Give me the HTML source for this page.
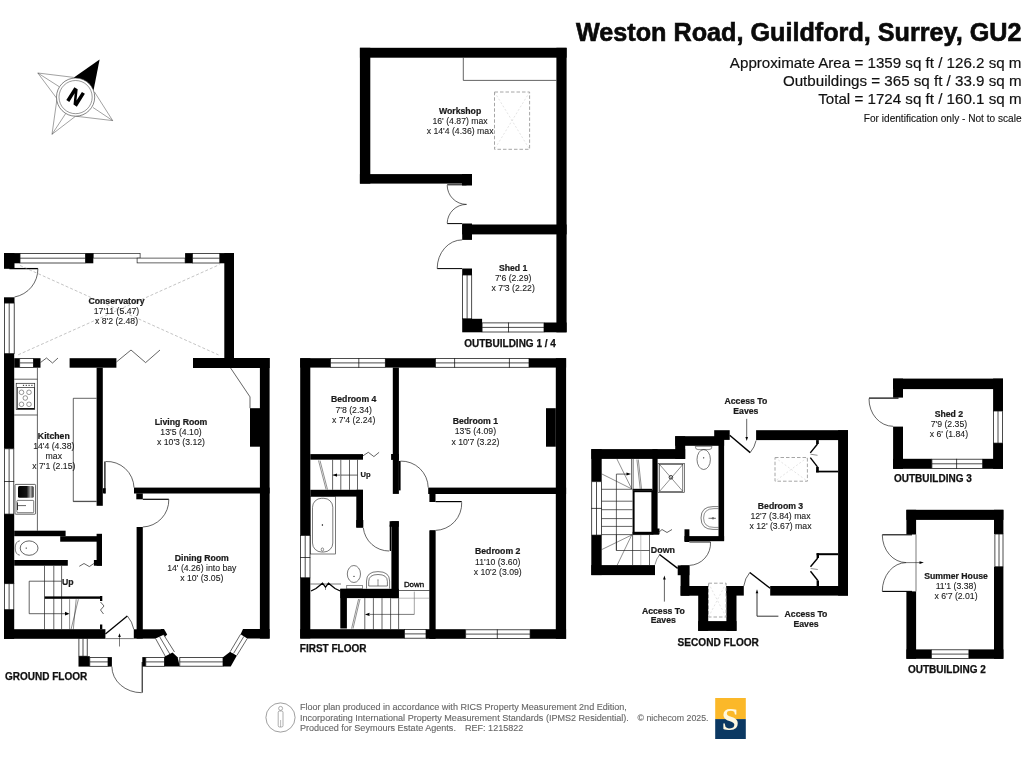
<!DOCTYPE html>
<html><head><meta charset="utf-8"><style>
html,body{margin:0;padding:0;background:#fff;}
body{width:1024px;height:768px;overflow:hidden;position:relative;font-family:"Liberation Sans",sans-serif;}
svg{position:absolute;left:0;top:0;}
</style></head><body>
<svg width="1024" height="768" viewBox="0 0 1024 768" font-family="Liberation Sans, sans-serif">
<rect x="0" y="0" width="1024" height="768" fill="#fff"/>
<defs><filter id="gs" color-interpolation-filters="sRGB"><feColorMatrix type="saturate" values="0"/></filter></defs>
<g fill="#000" filter="url(#gs)">
<text x="1021.5" y="40.9" font-size="25.2" font-weight="bold" text-anchor="end" fill="#0a0a0a" font-family="Liberation Sans" stroke="#0a0a0a" stroke-width="0.63">Weston Road, Guildford, Surrey, GU2</text>
<text x="1021.5" y="67.8" font-size="15.15" font-weight="normal" text-anchor="end" fill="#111" font-family="Liberation Sans" stroke="#111" stroke-width="0.18">Approximate Area = 1359 sq ft / 126.2 sq m</text>
<text x="1021.5" y="86.0" font-size="15.15" font-weight="normal" text-anchor="end" fill="#111" font-family="Liberation Sans" stroke="#111" stroke-width="0.18">Outbuildings = 365 sq ft / 33.9 sq m</text>
<text x="1021.5" y="104.1" font-size="15.15" font-weight="normal" text-anchor="end" fill="#111" font-family="Liberation Sans" stroke="#111" stroke-width="0.18">Total = 1724 sq ft / 160.1 sq m</text>
<text x="1021.5" y="121.9" font-size="10.1" font-weight="normal" text-anchor="end" fill="#111" font-family="Liberation Sans" stroke="#111" stroke-width="0.12">For identification only - Not to scale</text>
<rect x="4.0" y="253.1" width="16.0" height="10.2"/>
<rect x="4.0" y="253.1" width="10.5" height="15.7"/>
<rect x="20.0" y="253.5" width="65.5" height="9.5" fill="#fff" stroke="#111" stroke-width="0.75"/>
<line x1="20.0" y1="258.2" x2="85.5" y2="258.2" stroke="#111" stroke-width="0.75"/>
<rect x="85.5" y="253.1" width="7.8" height="10.2"/>
<rect x="93.3" y="253.5" width="46.8" height="4.6" fill="#fff" stroke="#222" stroke-width="0.7"/>
<rect x="137.1" y="258.1" width="48" height="4.8" fill="#fff" stroke="#222" stroke-width="0.7"/>
<rect x="185.1" y="253.1" width="7.5" height="10.2"/>
<rect x="192.6" y="253.5" width="27.2" height="9.5" fill="#fff" stroke="#111" stroke-width="0.75"/>
<line x1="192.6" y1="258.2" x2="219.8" y2="258.2" stroke="#111" stroke-width="0.75"/>
<rect x="219.8" y="253.1" width="14.2" height="10.2"/>
<rect x="224.3" y="253.1" width="9.7" height="114.9"/>
<line x1="9.4" y1="268.6" x2="37.9" y2="268.6" stroke="#000" stroke-width="1.3"/>
<path d="M37.9,268.6 A28.5,28.5 0 0 1 14.5,297.0" stroke="#222" stroke-width="0.7" fill="none"/>
<rect x="4.0" y="297.3" width="10.5" height="5.8"/>
<rect x="4.4" y="303.1" width="9.8" height="50.6" fill="#fff" stroke="#111" stroke-width="0.75"/>
<line x1="9.2" y1="303.1" x2="9.2" y2="353.7" stroke="#111" stroke-width="0.75"/>
<line x1="20.0" y1="265.5" x2="218.5" y2="354.9" stroke="#888" stroke-width="0.5" stroke-dasharray="3,2"/>
<line x1="18.2" y1="354.8" x2="219.5" y2="264.6" stroke="#888" stroke-width="0.5" stroke-dasharray="3,2"/>
<text x="116.5" y="303.9" font-size="8.7" font-weight="bold" text-anchor="middle" fill="#1a1a1a" font-family="Liberation Sans" stroke="#1a1a1a" stroke-width="0.22">Conservatory</text>
<text x="116.5" y="314.0" font-size="8.7" font-weight="normal" text-anchor="middle" fill="#1a1a1a" font-family="Liberation Sans" stroke="#1a1a1a" stroke-width="0.10">17'11 (5.47)</text>
<text x="116.5" y="324.1" font-size="8.7" font-weight="normal" text-anchor="middle" fill="#1a1a1a" font-family="Liberation Sans" stroke="#1a1a1a" stroke-width="0.10">x 8'2 (2.48)</text>
<rect x="4.0" y="353.7" width="10.2" height="95.1"/>
<rect x="14.2" y="358.2" width="5.5" height="9.5"/>
<rect x="19.7" y="358.6" width="13.7" height="8.8" fill="#fff" stroke="#111" stroke-width="0.75"/>
<line x1="19.7" y1="362.9" x2="33.4" y2="362.9" stroke="#111" stroke-width="0.75"/>
<rect x="33.4" y="358.2" width="7.1" height="9.5"/>
<polyline points="40.5,362.5 46.5,358.0 52.5,363.0 58.0,358.0" stroke="#222" stroke-width="0.7" fill="none" stroke-linejoin="miter"/>
<rect x="69.6" y="358.2" width="46.8" height="9.5"/>
<polyline points="116.4,362.0 131.0,350.0 145.6,362.6 160.0,350.0" stroke="#222" stroke-width="0.7" fill="none" stroke-linejoin="miter"/>
<rect x="193.0" y="358.0" width="76.6" height="10.0"/>
<rect x="96.6" y="367.7" width="6.2" height="138.1"/>
<rect x="259.9" y="358.0" width="9.7" height="280.6"/>
<polyline points="230.6,368.0 250.0,396.9 250.0,408.2" stroke="#222" stroke-width="0.7" fill="none" stroke-linejoin="miter"/>
<rect x="250.0" y="408.2" width="10.0" height="38.5"/>
<text x="181.0" y="425.2" font-size="8.7" font-weight="bold" text-anchor="middle" fill="#1a1a1a" font-family="Liberation Sans" stroke="#1a1a1a" stroke-width="0.22">Living Room</text>
<text x="181.0" y="435.3" font-size="8.7" font-weight="normal" text-anchor="middle" fill="#1a1a1a" font-family="Liberation Sans" stroke="#1a1a1a" stroke-width="0.10">13'5 (4.10)</text>
<text x="181.0" y="445.4" font-size="8.7" font-weight="normal" text-anchor="middle" fill="#1a1a1a" font-family="Liberation Sans" stroke="#1a1a1a" stroke-width="0.10">x 10'3 (3.12)</text>
<line x1="14.2" y1="379.2" x2="37.4" y2="379.2" stroke="#222" stroke-width="0.7"/>
<line x1="37.4" y1="367.7" x2="37.4" y2="530.7" stroke="#222" stroke-width="0.7"/>
<line x1="14.2" y1="415.0" x2="37.4" y2="415.0" stroke="#222" stroke-width="0.7"/>
<rect x="16.2" y="383.3" width="18.5" height="26.1" fill="none" stroke="#222" stroke-width="0.7"/>
<rect x="17.5" y="387.6" width="17" height="21" fill="none" stroke="#222" stroke-width="0.7"/>
<line x1="17.5" y1="408.6" x2="34.5" y2="408.6" stroke="#111" stroke-width="1.2"/>
<circle cx="21.5" cy="392.3" r="2.3" fill="none" stroke="#333" stroke-width="0.5"/>
<circle cx="29" cy="392.3" r="2.3" fill="none" stroke="#333" stroke-width="0.5"/>
<circle cx="25.3" cy="398" r="2.3" fill="none" stroke="#333" stroke-width="0.5"/>
<circle cx="21.5" cy="404.3" r="2.3" fill="none" stroke="#333" stroke-width="0.5"/>
<circle cx="29" cy="404.3" r="2.3" fill="none" stroke="#333" stroke-width="0.5"/>
<rect x="22.9" y="384.8" width="1.2" height="1.2" fill="#444"/>
<rect x="25.7" y="384.8" width="1.2" height="1.2" fill="#444"/>
<rect x="28.5" y="384.8" width="1.2" height="1.2" fill="#444"/>
<rect x="31.299999999999997" y="384.8" width="1.2" height="1.2" fill="#444"/>
<polyline points="96.6,398.3 73.3,398.3 73.3,501.6 96.6,501.6" stroke="#222" stroke-width="0.7" fill="none" stroke-linejoin="miter"/>
<text x="53.8" y="439.4" font-size="8.7" font-weight="bold" text-anchor="middle" fill="#1a1a1a" font-family="Liberation Sans" stroke="#1a1a1a" stroke-width="0.22">Kitchen</text>
<text x="53.8" y="449.4" font-size="8.7" font-weight="normal" text-anchor="middle" fill="#1a1a1a" font-family="Liberation Sans" stroke="#1a1a1a" stroke-width="0.10">14'4 (4.38)</text>
<text x="53.8" y="459.4" font-size="8.7" font-weight="normal" text-anchor="middle" fill="#1a1a1a" font-family="Liberation Sans" stroke="#1a1a1a" stroke-width="0.10">max</text>
<text x="53.8" y="469.4" font-size="8.7" font-weight="normal" text-anchor="middle" fill="#1a1a1a" font-family="Liberation Sans" stroke="#1a1a1a" stroke-width="0.10">x 7'1 (2.15)</text>
<rect x="15" y="484.4" width="20.6" height="29.8" rx="0.8" fill="none" stroke="#222" stroke-width="0.7"/>
<defs><linearGradient id="sg" x1="0" x2="1" y1="0" y2="0"><stop offset="0" stop-color="#000"/><stop offset="0.55" stop-color="#111"/><stop offset="0.8" stop-color="#aaa"/><stop offset="1" stop-color="#222"/></linearGradient></defs>
<rect x="18" y="486" width="15.7" height="11.7" rx="1.5" fill="url(#sg)"/>
<rect x="16.9" y="500.4" width="16.8" height="12.3" rx="0.8" fill="none" stroke="#222" stroke-width="0.6"/>
<line x1="17.5" y1="505.6" x2="26.0" y2="505.6" stroke="#222" stroke-width="0.7"/>
<line x1="17.5" y1="502.5" x2="17.5" y2="510.0" stroke="#222" stroke-width="0.9"/>
<rect x="4.4" y="448.8" width="9.4" height="65.3" fill="#fff" stroke="#111" stroke-width="0.75"/>
<line x1="9.1" y1="448.8" x2="9.1" y2="514.1" stroke="#111" stroke-width="0.75"/>
<line x1="4.0" y1="481.5" x2="14.2" y2="481.5" stroke="#111" stroke-width="0.75"/>
<rect x="4.0" y="514.1" width="10.2" height="69.9"/>
<rect x="4.4" y="583.7" width="9.4" height="26.0" fill="#fff" stroke="#111" stroke-width="0.75"/>
<line x1="9.1" y1="583.7" x2="9.1" y2="609.7" stroke="#111" stroke-width="0.75"/>
<rect x="4.0" y="609.7" width="10.2" height="29.2"/>
<rect x="14.2" y="530.7" width="51.4" height="5.5"/>
<rect x="60.2" y="536.2" width="41.8" height="5.5"/>
<rect x="96.6" y="533.8" width="5.4" height="31.9"/>
<rect x="14.2" y="560.0" width="53.6" height="5.7"/>
<rect x="93.9" y="560.0" width="8.1" height="5.7"/>
<ellipse cx="29.1" cy="548.1" rx="8.9" ry="7.2" fill="none" stroke="#222" stroke-width="0.7"/>
<path d="M19.8,540.8 Q15.2,541.5 15.2,548 Q15.2,554.5 19.8,555.2" stroke="#222" stroke-width="0.6" fill="none"/>
<circle cx="26.2" cy="548.1" r="0.6" fill="#000"/>
<polyline points="79.3,566.3 84.0,563.5 89.3,566.6 93.9,563.5" stroke="#222" stroke-width="0.7" fill="none" stroke-linejoin="miter"/>
<line x1="44.5" y1="565.7" x2="44.5" y2="629.2" stroke="#222" stroke-width="0.7"/>
<line x1="53.8" y1="565.7" x2="53.8" y2="629.2" stroke="#222" stroke-width="0.7"/>
<line x1="61.6" y1="565.7" x2="61.6" y2="629.2" stroke="#222" stroke-width="0.7"/>
<polyline points="61.6,581.2 29.2,581.2 29.2,613.7 68.0,613.7" stroke="#222" stroke-width="0.7" fill="none" stroke-linejoin="miter"/>
<polygon points="69.5,613.7 65.0,611.8 65.0,615.6" fill="#000"/>
<rect x="44.7" y="596.4" width="57.3" height="2.4"/>
<line x1="78.4" y1="599.2" x2="71.1" y2="629.2" stroke="#222" stroke-width="0.5"/>
<line x1="76.2" y1="599.2" x2="73.3" y2="629.2" stroke="#222" stroke-width="0.5"/>
<line x1="69.6" y1="599.2" x2="69.6" y2="629.2" stroke="#222" stroke-width="0.5"/>
<polyline points="100.5,602.0 104.0,606.0 100.5,610.0 103.5,614.0" stroke="#222" stroke-width="0.7" fill="none" stroke-linejoin="miter"/>
<rect x="100.0" y="596.0" width="2.3" height="5.0"/>
<rect x="100.0" y="624.5" width="2.3" height="4.8"/>
<text x="67.8" y="585.1" font-size="8.7" font-weight="bold" text-anchor="middle" fill="#1a1a1a" font-family="Liberation Sans" stroke="#1a1a1a" stroke-width="0.22">Up</text>
<rect x="4.0" y="629.2" width="101.4" height="9.6"/>
<line x1="105.4" y1="634.1" x2="127.3" y2="615.9" stroke="#000" stroke-width="1.3"/>
<path d="M127.3,615.9 A28.4,28.4 0 0 1 133.8,629.3" stroke="#222" stroke-width="0.7" fill="none"/>
<line x1="105.4" y1="638.6" x2="133.8" y2="638.6" stroke="#222" stroke-width="0.6"/>
<line x1="119.5" y1="646.5" x2="119.5" y2="636.0" stroke="#222" stroke-width="0.6"/>
<polygon points="119.5,633.2 118.2,637.0 120.8,637.0" fill="#000"/>
<rect x="133.8" y="629.3" width="27.4" height="9.3"/>
<rect x="136.6" y="527.0" width="6.2" height="111.6"/>
<line x1="104.9" y1="461.5" x2="104.9" y2="493.4" stroke="#000" stroke-width="1.2"/>
<rect x="102.8" y="488.2" width="2.8" height="5.2"/>
<path d="M105.6,461.5 A27.0,27.0 0 0 1 134.0,487.6" stroke="#222" stroke-width="0.7" fill="none"/>
<rect x="134.0" y="487.6" width="135.6" height="5.9"/>
<rect x="136.3" y="493.4" width="6.5" height="5.9"/>
<line x1="142.8" y1="499.3" x2="168.8" y2="499.3" stroke="#000" stroke-width="1.2"/>
<path d="M168.8,499.3 A27.0,27.0 0 0 1 142.8,527.0" stroke="#222" stroke-width="0.7" fill="none"/>
<line x1="73.3" y1="501.2" x2="96.6" y2="501.2" stroke="#222" stroke-width="0.6"/>
<rect x="78.9" y="638.6" width="8.3" height="17.6" fill="#fff" stroke="#111" stroke-width="0.75"/>
<line x1="83.0" y1="638.6" x2="83.0" y2="656.2" stroke="#111" stroke-width="0.75"/>
<rect x="78.5" y="656.2" width="11.3" height="10.4"/>
<rect x="89.8" y="657.5" width="18.2" height="8.8" fill="#fff" stroke="#111" stroke-width="0.75"/>
<line x1="89.8" y1="661.9" x2="108.0" y2="661.9" stroke="#111" stroke-width="0.75"/>
<rect x="108.0" y="657.1" width="3.9" height="9.5"/>
<path d="M111.9,666.6 A29.7,26.1 0 0 0 141.6,692.7" stroke="#222" stroke-width="0.7" fill="none"/>
<line x1="142.2" y1="662.0" x2="142.2" y2="692.7" stroke="#000" stroke-width="1.0"/>
<rect x="142.3" y="657.1" width="3.5" height="9.5"/>
<rect x="145.8" y="657.5" width="18.6" height="8.8" fill="#fff" stroke="#111" stroke-width="0.75"/>
<line x1="145.8" y1="661.9" x2="164.4" y2="661.9" stroke="#111" stroke-width="0.75"/>
<polygon points="160.8,629.0 164.0,629.0 167.2,634.5 163.2,638.6 160.8,638.6" fill="#000"/>
<polygon points="155.6,638.6 163.7,634.8 174.5,652.0 165.6,656.8" fill="#fff"/>
<path d="M155.6,638.6 L165.6,656.8 M163.7,634.8 L174.5,652 M159.6,636.7 L170,654.4" stroke="#222" stroke-width="0.7" fill="none"/>
<polygon points="164.4,656.8 172.5,652.6 177.6,657.2 179.8,666.6 164.4,666.6" fill="#000"/>
<rect x="179.8" y="657.6" width="43.2" height="8.6" fill="#fff" stroke="#111" stroke-width="0.75"/>
<line x1="179.8" y1="661.9" x2="223.0" y2="661.9" stroke="#111" stroke-width="0.75"/>
<polygon points="223.0,657.2 230.2,651.7 236.9,655.4 230.7,666.6 223.0,666.6" fill="#000"/>
<polygon points="230.2,651.7 236.9,655.4 247.2,638.6 240.6,634.2" fill="#fff"/>
<path d="M230.2,651.7 L240.6,634.2 M236.9,655.4 L247.2,638.6 M233.5,653.5 L243.9,636.4" stroke="#222" stroke-width="0.7" fill="none"/>
<polygon points="240.6,634.2 243.0,629.0 269.6,629.0 269.6,638.6 247.2,638.6" fill="#000"/>
<text x="201.8" y="560.8" font-size="8.7" font-weight="bold" text-anchor="middle" fill="#1a1a1a" font-family="Liberation Sans" stroke="#1a1a1a" stroke-width="0.22">Dining Room</text>
<text x="201.8" y="570.9" font-size="8.7" font-weight="normal" text-anchor="middle" fill="#1a1a1a" font-family="Liberation Sans" stroke="#1a1a1a" stroke-width="0.10">14' (4.26) into bay</text>
<text x="201.8" y="581.0" font-size="8.7" font-weight="normal" text-anchor="middle" fill="#1a1a1a" font-family="Liberation Sans" stroke="#1a1a1a" stroke-width="0.10">x 10' (3.05)</text>
<text x="5.0" y="680.0" font-size="10" font-weight="bold" text-anchor="start" fill="#111" font-family="Liberation Sans" stroke="#111" stroke-width="0.25">GROUND FLOOR</text>
<rect x="300.2" y="358.2" width="30.4" height="9.4"/>
<rect x="330.6" y="358.6" width="54.7" height="8.7" fill="#fff" stroke="#111" stroke-width="0.75"/>
<line x1="330.6" y1="362.9" x2="385.3" y2="362.9" stroke="#111" stroke-width="0.75"/>
<line x1="358.8" y1="358.2" x2="358.8" y2="367.6" stroke="#111" stroke-width="0.75"/>
<rect x="385.3" y="358.2" width="50.3" height="9.4"/>
<rect x="435.6" y="358.6" width="93.4" height="8.7" fill="#fff" stroke="#111" stroke-width="0.75"/>
<line x1="435.6" y1="362.9" x2="529.0" y2="362.9" stroke="#111" stroke-width="0.75"/>
<line x1="454.6" y1="358.2" x2="454.6" y2="367.6" stroke="#111" stroke-width="0.75"/>
<line x1="509.4" y1="358.2" x2="509.4" y2="367.6" stroke="#111" stroke-width="0.75"/>
<rect x="529.0" y="358.2" width="37.1" height="9.4"/>
<rect x="555.8" y="358.2" width="10.3" height="280.6"/>
<rect x="546.0" y="408.2" width="9.8" height="38.5"/>
<rect x="300.2" y="358.2" width="10.1" height="177.4"/>
<rect x="300.6" y="535.6" width="9.4" height="42.2" fill="#fff" stroke="#111" stroke-width="0.75"/>
<line x1="305.2" y1="535.6" x2="305.2" y2="577.8" stroke="#111" stroke-width="0.75"/>
<line x1="300.2" y1="557.5" x2="310.3" y2="557.5" stroke="#111" stroke-width="0.75"/>
<rect x="300.2" y="577.8" width="10.1" height="60.6"/>
<rect x="392.8" y="367.6" width="6.1" height="126.3"/>
<rect x="391.1" y="454.0" width="7.8" height="5.9"/>
<line x1="399.7" y1="461.0" x2="399.7" y2="490.4" stroke="#000" stroke-width="1.8"/>
<path d="M400.5,461.1 A27.0,27.0 0 0 1 428.2,487.5" stroke="#222" stroke-width="0.7" fill="none"/>
<rect x="310.3" y="454.1" width="52.7" height="5.6"/>
<polyline points="363.0,455.8 368.3,452.3 373.9,456.6 379.1,452.3" stroke="#222" stroke-width="0.7" fill="none" stroke-linejoin="miter"/>
<line x1="332.6" y1="459.7" x2="332.6" y2="489.8" stroke="#222" stroke-width="0.7"/>
<line x1="340.8" y1="459.7" x2="340.8" y2="489.8" stroke="#222" stroke-width="0.7"/>
<line x1="349.5" y1="459.7" x2="349.5" y2="489.8" stroke="#222" stroke-width="0.7"/>
<line x1="357.5" y1="459.7" x2="357.5" y2="489.8" stroke="#222" stroke-width="0.7"/>
<line x1="340.8" y1="475.1" x2="357.5" y2="475.1" stroke="#222" stroke-width="0.7"/>
<line x1="332.6" y1="475.1" x2="340.0" y2="475.1" stroke="#222" stroke-width="0.7"/>
<polygon points="332.8,475.1 337.0,473.4 337.0,476.8" fill="#000"/>
<line x1="318.5" y1="460.5" x2="326.1" y2="489.5" stroke="#222" stroke-width="0.5"/>
<line x1="320.0" y1="460.5" x2="327.5" y2="489.5" stroke="#222" stroke-width="0.5"/>
<text x="365.5" y="477.3" font-size="7.6" font-weight="bold" text-anchor="middle" fill="#1a1a1a" font-family="Liberation Sans" stroke="#1a1a1a" stroke-width="0.19">Up</text>
<text x="353.7" y="402.4" font-size="8.7" font-weight="bold" text-anchor="middle" fill="#1a1a1a" font-family="Liberation Sans" stroke="#1a1a1a" stroke-width="0.22">Bedroom 4</text>
<text x="353.7" y="412.5" font-size="8.7" font-weight="normal" text-anchor="middle" fill="#1a1a1a" font-family="Liberation Sans" stroke="#1a1a1a" stroke-width="0.10">7'8 (2.34)</text>
<text x="353.7" y="422.6" font-size="8.7" font-weight="normal" text-anchor="middle" fill="#1a1a1a" font-family="Liberation Sans" stroke="#1a1a1a" stroke-width="0.10">x 7'4 (2.24)</text>
<text x="475.4" y="424.3" font-size="8.7" font-weight="bold" text-anchor="middle" fill="#1a1a1a" font-family="Liberation Sans" stroke="#1a1a1a" stroke-width="0.22">Bedroom 1</text>
<text x="475.4" y="434.4" font-size="8.7" font-weight="normal" text-anchor="middle" fill="#1a1a1a" font-family="Liberation Sans" stroke="#1a1a1a" stroke-width="0.10">13'5 (4.09)</text>
<text x="475.4" y="444.5" font-size="8.7" font-weight="normal" text-anchor="middle" fill="#1a1a1a" font-family="Liberation Sans" stroke="#1a1a1a" stroke-width="0.10">x 10'7 (3.22)</text>
<rect x="310.3" y="489.8" width="52.7" height="6.8"/>
<rect x="356.3" y="489.8" width="6.7" height="37.7"/>
<rect x="428.2" y="487.6" width="137.9" height="6.4"/>
<rect x="429.4" y="494.0" width="6.1" height="8.0"/>
<line x1="435.5" y1="501.6" x2="461.7" y2="501.6" stroke="#000" stroke-width="1.2"/>
<path d="M461.7,502.3 A27.0,27.0 0 0 1 435.5,530.4" stroke="#222" stroke-width="0.7" fill="none"/>
<rect x="429.4" y="530.4" width="6.0" height="108.4"/>
<rect x="310.3" y="496.6" width="25.3" height="57.4" fill="none" stroke="#222" stroke-width="0.6"/>
<rect x="312.5" y="498.3" width="20.3" height="53.7" rx="9" ry="9" fill="none" stroke="#222" stroke-width="0.6"/>
<circle cx="322.4" cy="525" r="0.7" fill="#000"/>
<ellipse cx="322.4" cy="549.5" rx="1.2" ry="1.6" fill="none" stroke="#222" stroke-width="0.5"/>
<rect x="356.3" y="520.0" width="7.0" height="7.6"/>
<path d="M363.3,527.8 A26.0,26.0 0 0 0 389.2,551.0" stroke="#222" stroke-width="0.7" fill="none"/>
<line x1="390.4" y1="524.7" x2="390.4" y2="551.0" stroke="#000" stroke-width="1.4"/>
<rect x="391.4" y="521.2" width="7.4" height="77.0"/>
<rect x="389.6" y="521.2" width="9.2" height="5.6"/>
<ellipse cx="353.9" cy="574" rx="6.6" ry="8.5" fill="none" stroke="#222" stroke-width="0.6"/>
<circle cx="354" cy="576.3" r="0.6" fill="#000"/>
<rect x="346.8" y="585.6" width="15.6" height="3.2" fill="none" stroke="#222" stroke-width="0.5"/>
<path d="M366.5,588.6 L366.5,581 Q366.5,571.6 378,571.6 Q389.6,571.6 389.6,581 L389.6,588.6" stroke="#222" stroke-width="0.6" fill="none"/>
<path d="M368.7,586 L368.7,581.5 Q368.7,574.5 378,574.5 Q387.4,574.5 387.4,581.5 L387.4,586 Z" stroke="#222" stroke-width="0.6" fill="none"/>
<circle cx="378" cy="580" r="0.6" fill="#000"/>
<line x1="378.0" y1="581.0" x2="378.0" y2="586.0" stroke="#222" stroke-width="0.5"/>
<rect x="340.3" y="588.8" width="58.5" height="9.3"/>
<rect x="340.3" y="588.8" width="6.6" height="39.7"/>
<polyline points="310.3,584.0 341.0,584.0" stroke="#222" stroke-width="0.6" fill="none" stroke-linejoin="miter"/>
<polyline points="311.0,591.0 316.0,588.5 322.5,583.2 325.5,587.2 328.5,583.2 335.0,588.5 340.3,591.0" stroke="#000" stroke-width="1.3" fill="none" stroke-linejoin="miter"/>
<line x1="325.5" y1="587.0" x2="325.5" y2="590.0" stroke="#222" stroke-width="0.5"/>
<line x1="364.8" y1="598.1" x2="364.8" y2="629.2" stroke="#222" stroke-width="0.7"/>
<line x1="373.4" y1="598.1" x2="373.4" y2="629.2" stroke="#222" stroke-width="0.7"/>
<line x1="382.0" y1="598.1" x2="382.0" y2="629.2" stroke="#222" stroke-width="0.7"/>
<line x1="390.6" y1="598.1" x2="390.6" y2="629.2" stroke="#222" stroke-width="0.7"/>
<line x1="398.6" y1="598.2" x2="398.6" y2="629.2" stroke="#222" stroke-width="0.7"/>
<line x1="370.0" y1="614.4" x2="414.3" y2="614.4" stroke="#222" stroke-width="0.6"/>
<polygon points="364.9,614.4 369.5,612.8 369.5,616.0" fill="#000"/>
<line x1="414.3" y1="591.6" x2="414.3" y2="614.4" stroke="#666" stroke-width="0.6"/>
<line x1="398.8" y1="590.5" x2="429.8" y2="590.5" stroke="#222" stroke-width="0.7"/>
<line x1="398.8" y1="598.2" x2="429.0" y2="598.2" stroke="#777" stroke-width="0.5"/>
<line x1="358.6" y1="599.0" x2="351.6" y2="628.6" stroke="#222" stroke-width="0.5"/>
<line x1="360.0" y1="599.0" x2="353.0" y2="628.6" stroke="#222" stroke-width="0.5"/>
<text x="414.0" y="586.8" font-size="7.9" font-weight="normal" text-anchor="middle" fill="#000" font-family="Liberation Sans" stroke="#000" stroke-width="0.3">Down</text>
<rect x="429.8" y="530.4" width="5.6" height="108.4"/>
<rect x="300.2" y="629.2" width="104.4" height="9.4"/>
<rect x="404.6" y="629.6" width="21.4" height="8.6" fill="#fff" stroke="#111" stroke-width="0.75"/>
<line x1="404.6" y1="633.9" x2="426.0" y2="633.9" stroke="#111" stroke-width="0.75"/>
<rect x="426.0" y="629.2" width="39.7" height="9.6"/>
<rect x="465.7" y="629.8" width="64.4" height="8.6" fill="#fff" stroke="#111" stroke-width="0.75"/>
<line x1="465.7" y1="634.1" x2="530.1" y2="634.1" stroke="#111" stroke-width="0.75"/>
<line x1="497.3" y1="629.4" x2="497.3" y2="638.8" stroke="#111" stroke-width="0.75"/>
<rect x="530.1" y="629.2" width="36.0" height="9.6"/>
<text x="497.7" y="554.4" font-size="8.7" font-weight="bold" text-anchor="middle" fill="#1a1a1a" font-family="Liberation Sans" stroke="#1a1a1a" stroke-width="0.22">Bedroom 2</text>
<text x="497.7" y="564.5" font-size="8.7" font-weight="normal" text-anchor="middle" fill="#1a1a1a" font-family="Liberation Sans" stroke="#1a1a1a" stroke-width="0.10">11'10 (3.60)</text>
<text x="497.7" y="574.6" font-size="8.7" font-weight="normal" text-anchor="middle" fill="#1a1a1a" font-family="Liberation Sans" stroke="#1a1a1a" stroke-width="0.10">x 10'2 (3.09)</text>
<text x="299.8" y="652.3" font-size="10" font-weight="bold" text-anchor="start" fill="#111" font-family="Liberation Sans" stroke="#111" stroke-width="0.25">FIRST FLOOR</text>
<rect x="591.3" y="449.1" width="93.9" height="9.8"/>
<rect x="675.2" y="436.2" width="10.0" height="22.7"/>
<rect x="675.2" y="436.2" width="48.9" height="9.6"/>
<rect x="714.2" y="430.2" width="15.5" height="9.7"/>
<rect x="718.5" y="436.2" width="5.6" height="104.3"/>
<rect x="591.3" y="449.1" width="10.4" height="32.6"/>
<rect x="591.7" y="481.7" width="9.7" height="53.4" fill="#fff" stroke="#111" stroke-width="0.75"/>
<line x1="596.5" y1="481.7" x2="596.5" y2="535.1" stroke="#111" stroke-width="0.75"/>
<line x1="591.3" y1="508.4" x2="601.7" y2="508.4" stroke="#111" stroke-width="0.75"/>
<rect x="591.3" y="535.1" width="10.4" height="40.0"/>
<rect x="591.3" y="565.1" width="63.7" height="10.0"/>
<rect x="652.4" y="449.1" width="5.2" height="83.4"/>
<rect x="652.4" y="528.5" width="7.1" height="5.8"/>
<rect x="632.6" y="531.8" width="26.4" height="2.8"/>
<rect x="633.6" y="491.2" width="18.8" height="42.4" fill="none" stroke="#000" stroke-width="2"/>
<line x1="632.5" y1="489.6" x2="652.4" y2="489.6" stroke="#000" stroke-width="1.6"/>
<rect x="657.9" y="463.3" width="26.6" height="29.3" fill="#fff" stroke="#222" stroke-width="0.6"/>
<rect x="659.6" y="464.5" width="23.2" height="26.8" fill="none" stroke="#222" stroke-width="0.6"/>
<line x1="659.6" y1="464.5" x2="682.8" y2="491.3" stroke="#222" stroke-width="0.5"/>
<line x1="682.8" y1="464.5" x2="659.6" y2="491.3" stroke="#222" stroke-width="0.5"/>
<circle cx="670.9" cy="477.3" r="1.8" fill="none" stroke="#222" stroke-width="0.9"/>
<ellipse cx="703.7" cy="459.5" rx="6.7" ry="10" fill="none" stroke="#222" stroke-width="0.6"/>
<path d="M695.3,446.4 L712,446.4 Q712,449.6 709,449.6 L698,449.6 Q695.3,449.6 695.3,446.4 Z" stroke="#222" stroke-width="0.5" fill="none"/>
<circle cx="703.7" cy="457.8" r="0.6" fill="#000"/>
<path d="M718.5,506.6 L713,506.6 Q701,506.6 701,518 Q701,529.4 713,529.4 L718.5,529.4" stroke="#222" stroke-width="0.6" fill="none"/>
<path d="M718.5,508.6 L714,508.6 Q703.6,508.6 703.6,518 Q703.6,527.4 714,527.4 L718.5,527.4" stroke="#222" stroke-width="0.5" fill="none"/>
<line x1="708.5" y1="518.3" x2="716.0" y2="518.3" stroke="#222" stroke-width="0.6"/>
<circle cx="713" cy="518.3" r="0.9" fill="none" stroke="#222" stroke-width="0.5"/>
<rect x="684.5" y="529.3" width="4.9" height="12.7"/>
<rect x="684.5" y="536.1" width="39.6" height="5.1"/>
<line x1="689.4" y1="542.0" x2="710.5" y2="542.0" stroke="#000" stroke-width="0.9"/>
<path d="M710.5,542.0 A22.0,22.0 0 0 1 689.4,565.4" stroke="#222" stroke-width="0.7" fill="none"/>
<path d="M660.0,554.2 A23.0,23.0 0 0 0 655.0,564.6" stroke="#222" stroke-width="0.5" fill="none"/>
<line x1="659.5" y1="554.5" x2="677.7" y2="568.4" stroke="#000" stroke-width="1.4"/>
<rect x="677.7" y="565.4" width="11.7" height="9.8"/>
<rect x="680.6" y="565.4" width="8.8" height="30.3"/>
<rect x="680.6" y="586.0" width="27.3" height="9.7"/>
<rect x="698.2" y="586.0" width="10.0" height="44.9"/>
<rect x="698.2" y="621.1" width="38.3" height="9.8"/>
<rect x="726.4" y="586.0" width="10.1" height="44.9"/>
<rect x="726.4" y="586.0" width="17.4" height="9.6"/>
<rect x="708.5" y="583.2" width="17.6" height="33.8" fill="none" stroke="#888" stroke-width="0.75" stroke-dasharray="3.5,2"/>
<line x1="708.5" y1="583.2" x2="726.1" y2="617.0" stroke="#bbb" stroke-width="0.4" stroke-dasharray="2,2"/>
<line x1="726.1" y1="583.2" x2="708.5" y2="617.0" stroke="#bbb" stroke-width="0.4" stroke-dasharray="2,2"/>
<line x1="601.7" y1="489.3" x2="631.6" y2="489.3" stroke="#222" stroke-width="0.7"/>
<line x1="631.6" y1="458.9" x2="631.6" y2="489.3" stroke="#222" stroke-width="0.7"/>
<line x1="631.7" y1="488.9" x2="601.7" y2="473.9" stroke="#222" stroke-width="0.5"/>
<line x1="631.7" y1="488.9" x2="616.9" y2="458.9" stroke="#222" stroke-width="0.5"/>
<polyline points="616.4,550.5 616.4,474.1 628.0,474.1" stroke="#222" stroke-width="0.7" fill="none" stroke-linejoin="miter"/>
<polygon points="631.0,474.1 626.5,472.6 626.5,475.6" fill="#000"/>
<line x1="601.7" y1="501.2" x2="632.6" y2="501.2" stroke="#222" stroke-width="0.7"/>
<line x1="601.7" y1="509.7" x2="632.6" y2="509.7" stroke="#222" stroke-width="0.7"/>
<line x1="601.7" y1="518.6" x2="632.6" y2="518.6" stroke="#222" stroke-width="0.7"/>
<line x1="601.7" y1="526.4" x2="632.6" y2="526.4" stroke="#222" stroke-width="0.7"/>
<line x1="601.7" y1="534.6" x2="632.6" y2="534.6" stroke="#222" stroke-width="0.7"/>
<line x1="616.4" y1="534.6" x2="616.4" y2="550.5" stroke="#222" stroke-width="0.7"/>
<line x1="616.4" y1="550.5" x2="649.5" y2="550.5" stroke="#222" stroke-width="0.7"/>
<line x1="632.6" y1="534.6" x2="649.5" y2="534.6" stroke="#222" stroke-width="0.7"/>
<line x1="632.6" y1="534.6" x2="632.6" y2="565.1" stroke="#222" stroke-width="0.7"/>
<line x1="640.8" y1="535.0" x2="640.8" y2="565.1" stroke="#888" stroke-width="0.5"/>
<line x1="649.5" y1="535.0" x2="649.5" y2="565.1" stroke="#222" stroke-width="0.7"/>
<line x1="631.7" y1="535.0" x2="601.7" y2="549.6" stroke="#222" stroke-width="0.5"/>
<line x1="631.7" y1="535.0" x2="617.2" y2="565.1" stroke="#222" stroke-width="0.5"/>
<line x1="633.2" y1="458.9" x2="633.2" y2="489.6" stroke="#222" stroke-width="0.6"/>
<line x1="636.9" y1="459.5" x2="640.2" y2="488.9" stroke="#222" stroke-width="0.5"/>
<line x1="638.3" y1="459.5" x2="641.5" y2="488.9" stroke="#222" stroke-width="0.5"/>
<polyline points="658.0,533.0 662.0,529.5 667.0,532.5 672.0,529.5" stroke="#222" stroke-width="0.7" fill="none" stroke-linejoin="miter"/>
<text x="662.9" y="552.7" font-size="8.9" font-weight="bold" text-anchor="middle" fill="#1a1a1a" font-family="Liberation Sans" stroke="#1a1a1a" stroke-width="0.22">Down</text>
<line x1="664.4" y1="601.6" x2="664.4" y2="578.0" stroke="#222" stroke-width="0.7"/>
<polygon points="664.4,575.4 663.1,579.5 665.7,579.5" fill="#000"/>
<text x="663.3" y="614.0" font-size="8.7" font-weight="bold" text-anchor="middle" fill="#1a1a1a" font-family="Liberation Sans" stroke="#1a1a1a" stroke-width="0.22">Access To</text>
<text x="663.3" y="623.4" font-size="8.7" font-weight="bold" text-anchor="middle" fill="#1a1a1a" font-family="Liberation Sans" stroke="#1a1a1a" stroke-width="0.22">Eaves</text>
<rect x="756.1" y="430.2" width="91.9" height="9.9"/>
<rect x="838.1" y="430.2" width="9.9" height="165.4"/>
<line x1="729.7" y1="435.2" x2="750.2" y2="452.6" stroke="#000" stroke-width="1.4"/>
<path d="M750.2,452.6 A27.0,27.0 0 0 0 756.1,440.5" stroke="#222" stroke-width="0.7" fill="none"/>
<line x1="746.7" y1="418.8" x2="746.7" y2="438.0" stroke="#222" stroke-width="0.7"/>
<polygon points="746.7,441.0 745.4,437.0 748.0,437.0" fill="#000"/>
<text x="745.9" y="404.4" font-size="8.7" font-weight="bold" text-anchor="middle" fill="#1a1a1a" font-family="Liberation Sans" stroke="#1a1a1a" stroke-width="0.22">Access To</text>
<text x="745.9" y="414.0" font-size="8.7" font-weight="bold" text-anchor="middle" fill="#1a1a1a" font-family="Liberation Sans" stroke="#1a1a1a" stroke-width="0.22">Eaves</text>
<rect x="816.1" y="440.1" width="2.7" height="3.9"/>
<polyline points="817.5,444.0 810.3,452.9" stroke="#000" stroke-width="1.4" fill="none" stroke-linejoin="miter"/>
<polyline points="810.3,457.6 817.5,466.9" stroke="#000" stroke-width="1.4" fill="none" stroke-linejoin="miter"/>
<line x1="810.5" y1="454.2" x2="817.5" y2="455.3" stroke="#222" stroke-width="0.5"/>
<rect x="816.1" y="466.9" width="2.7" height="5.5"/>
<rect x="816.1" y="470.7" width="22.0" height="1.7"/>
<rect x="816.6" y="553.2" width="21.5" height="2.0"/>
<rect x="816.6" y="553.2" width="2.4" height="4.8"/>
<polyline points="817.8,558.0 810.5,566.8" stroke="#000" stroke-width="1.4" fill="none" stroke-linejoin="miter"/>
<polyline points="810.5,571.2 817.8,580.5" stroke="#000" stroke-width="1.4" fill="none" stroke-linejoin="miter"/>
<line x1="810.7" y1="568.5" x2="817.8" y2="569.5" stroke="#222" stroke-width="0.5"/>
<rect x="816.6" y="580.5" width="2.4" height="5.5"/>
<rect x="770.2" y="586.0" width="77.8" height="9.6"/>
<line x1="749.8" y1="572.5" x2="770.2" y2="588.3" stroke="#000" stroke-width="1.4"/>
<path d="M749.8,572.5 A26.0,26.0 0 0 0 743.8,586.0" stroke="#222" stroke-width="0.7" fill="none"/>
<polyline points="778.4,616.2 757.0,616.2 757.0,592.0" stroke="#000" stroke-width="0.8" fill="none" stroke-linejoin="miter"/>
<polygon points="757.0,589.2 755.7,593.2 758.3,593.2" fill="#000"/>
<text x="806.0" y="617.2" font-size="8.7" font-weight="bold" text-anchor="middle" fill="#1a1a1a" font-family="Liberation Sans" stroke="#1a1a1a" stroke-width="0.22">Access To</text>
<text x="806.0" y="626.8" font-size="8.7" font-weight="bold" text-anchor="middle" fill="#1a1a1a" font-family="Liberation Sans" stroke="#1a1a1a" stroke-width="0.22">Eaves</text>
<rect x="775" y="457.5" width="32.4" height="23.7" fill="none" stroke="#888" stroke-width="0.75" stroke-dasharray="3.5,2"/>
<line x1="775.0" y1="457.5" x2="807.4" y2="481.2" stroke="#bbb" stroke-width="0.4" stroke-dasharray="2,2"/>
<line x1="807.4" y1="457.5" x2="775.0" y2="481.2" stroke="#bbb" stroke-width="0.4" stroke-dasharray="2,2"/>
<text x="780.5" y="509.0" font-size="8.7" font-weight="bold" text-anchor="middle" fill="#1a1a1a" font-family="Liberation Sans" stroke="#1a1a1a" stroke-width="0.22">Bedroom 3</text>
<text x="780.5" y="519.1" font-size="8.7" font-weight="normal" text-anchor="middle" fill="#1a1a1a" font-family="Liberation Sans" stroke="#1a1a1a" stroke-width="0.10">12'7 (3.84) max</text>
<text x="780.5" y="529.2" font-size="8.7" font-weight="normal" text-anchor="middle" fill="#1a1a1a" font-family="Liberation Sans" stroke="#1a1a1a" stroke-width="0.10">x 12' (3.67) max</text>
<text x="677.6" y="645.9" font-size="10.1" font-weight="bold" text-anchor="start" fill="#111" font-family="Liberation Sans" stroke="#111" stroke-width="0.25">SECOND FLOOR</text>
<rect x="359.9" y="47.8" width="206.7" height="9.9"/>
<rect x="359.9" y="47.8" width="10.4" height="135.8"/>
<rect x="359.9" y="174.1" width="112.1" height="9.5"/>
<rect x="462.0" y="174.1" width="10.0" height="11.4"/>
<rect x="556.4" y="47.8" width="10.2" height="284.5"/>
<polyline points="463.3,57.7 463.3,80.4 556.4,80.4" stroke="#222" stroke-width="0.7" fill="none" stroke-linejoin="miter"/>
<rect x="494.5" y="92" width="35.1" height="57.3" fill="none" stroke="#888" stroke-width="0.75" stroke-dasharray="3.5,2"/>
<line x1="494.5" y1="92.0" x2="529.6" y2="149.3" stroke="#bbb" stroke-width="0.4" stroke-dasharray="2,2"/>
<line x1="529.6" y1="92.0" x2="494.5" y2="149.3" stroke="#bbb" stroke-width="0.4" stroke-dasharray="2,2"/>
<text x="460.1" y="114.1" font-size="8.7" font-weight="bold" text-anchor="middle" fill="#1a1a1a" font-family="Liberation Sans" stroke="#1a1a1a" stroke-width="0.22">Workshop</text>
<text x="460.1" y="124.1" font-size="8.7" font-weight="normal" text-anchor="middle" fill="#1a1a1a" font-family="Liberation Sans" stroke="#1a1a1a" stroke-width="0.10">16' (4.87) max</text>
<text x="460.1" y="134.1" font-size="8.7" font-weight="normal" text-anchor="middle" fill="#1a1a1a" font-family="Liberation Sans" stroke="#1a1a1a" stroke-width="0.10">x 14'4 (4.36) max</text>
<line x1="447.2" y1="184.8" x2="466.5" y2="184.8" stroke="#000" stroke-width="1.0"/>
<path d="M447.2,185.2 A19.3,19.3 0 0 0 466.5,204.4" stroke="#222" stroke-width="0.7" fill="none"/>
<line x1="447.2" y1="223.6" x2="462.2" y2="223.6" stroke="#000" stroke-width="1.0"/>
<path d="M447.2,223.2 A19.3,19.3 0 0 1 466.5,204.4" stroke="#222" stroke-width="0.7" fill="none"/>
<rect x="462.2" y="223.5" width="9.8" height="16.4"/>
<rect x="462.2" y="224.5" width="104.4" height="9.9"/>
<line x1="437.2" y1="268.6" x2="462.2" y2="268.6" stroke="#000" stroke-width="1.0"/>
<path d="M437.2,268.5 A25.0,28.6 0 0 1 462.2,239.9" stroke="#222" stroke-width="0.7" fill="none"/>
<rect x="462.2" y="268.5" width="9.8" height="6.5"/>
<rect x="462.6" y="275.0" width="9.1" height="43.8" fill="#fff" stroke="#111" stroke-width="0.75"/>
<line x1="467.1" y1="275.0" x2="467.1" y2="318.8" stroke="#111" stroke-width="0.75"/>
<rect x="462.2" y="318.8" width="19.9" height="13.5"/>
<rect x="482.1" y="322.9" width="61.9" height="9.1" fill="#fff" stroke="#111" stroke-width="0.75"/>
<line x1="482.1" y1="327.4" x2="544.0" y2="327.4" stroke="#111" stroke-width="0.75"/>
<line x1="508.5" y1="322.5" x2="508.5" y2="332.3" stroke="#111" stroke-width="0.75"/>
<rect x="544.0" y="322.5" width="22.6" height="9.8"/>
<text x="513.2" y="271.0" font-size="8.7" font-weight="bold" text-anchor="middle" fill="#1a1a1a" font-family="Liberation Sans" stroke="#1a1a1a" stroke-width="0.22">Shed 1</text>
<text x="513.2" y="281.0" font-size="8.7" font-weight="normal" text-anchor="middle" fill="#1a1a1a" font-family="Liberation Sans" stroke="#1a1a1a" stroke-width="0.10">7'6 (2.29)</text>
<text x="513.2" y="291.0" font-size="8.7" font-weight="normal" text-anchor="middle" fill="#1a1a1a" font-family="Liberation Sans" stroke="#1a1a1a" stroke-width="0.10">x 7'3 (2.22)</text>
<text x="464.2" y="346.9" font-size="10" font-weight="bold" text-anchor="start" fill="#111" font-family="Liberation Sans" stroke="#111" stroke-width="0.25">OUTBUILDING 1 / 4</text>
<rect x="893.1" y="378.6" width="109.9" height="10.5"/>
<rect x="893.1" y="378.6" width="9.9" height="19.0"/>
<line x1="869.0" y1="398.1" x2="898.5" y2="398.1" stroke="#000" stroke-width="1.2"/>
<path d="M869.0,398.6 A24.1,27.4 0 0 0 893.1,426.3" stroke="#222" stroke-width="0.7" fill="none"/>
<rect x="893.1" y="426.6" width="9.9" height="42.2"/>
<rect x="993.1" y="378.6" width="9.9" height="32.4"/>
<rect x="993.5" y="411.0" width="9.1" height="32.1" fill="#fff" stroke="#111" stroke-width="0.75"/>
<line x1="998.0" y1="411.0" x2="998.0" y2="443.1" stroke="#111" stroke-width="0.75"/>
<rect x="993.1" y="443.1" width="9.9" height="25.7"/>
<rect x="893.1" y="458.8" width="38.8" height="10.0"/>
<rect x="931.9" y="459.2" width="50.8" height="9.2" fill="#fff" stroke="#111" stroke-width="0.75"/>
<line x1="931.9" y1="463.8" x2="982.7" y2="463.8" stroke="#111" stroke-width="0.75"/>
<line x1="956.6" y1="458.8" x2="956.6" y2="468.8" stroke="#111" stroke-width="0.75"/>
<rect x="982.7" y="458.8" width="20.3" height="10.0"/>
<text x="948.9" y="416.7" font-size="8.7" font-weight="bold" text-anchor="middle" fill="#1a1a1a" font-family="Liberation Sans" stroke="#1a1a1a" stroke-width="0.22">Shed 2</text>
<text x="948.9" y="426.7" font-size="8.7" font-weight="normal" text-anchor="middle" fill="#1a1a1a" font-family="Liberation Sans" stroke="#1a1a1a" stroke-width="0.10">7'9 (2.35)</text>
<text x="948.9" y="436.7" font-size="8.7" font-weight="normal" text-anchor="middle" fill="#1a1a1a" font-family="Liberation Sans" stroke="#1a1a1a" stroke-width="0.10">x 6' (1.84)</text>
<text x="894.0" y="481.7" font-size="10" font-weight="bold" text-anchor="start" fill="#111" font-family="Liberation Sans" stroke="#111" stroke-width="0.25">OUTBUILDING 3</text>
<rect x="906.4" y="509.8" width="97.0" height="10.1"/>
<rect x="906.4" y="509.8" width="9.7" height="24.7"/>
<rect x="906.4" y="591.4" width="9.7" height="67.4"/>
<line x1="916.0" y1="534.5" x2="916.0" y2="591.4" stroke="#222" stroke-width="0.6"/>
<line x1="882.3" y1="534.8" x2="912.0" y2="534.8" stroke="#000" stroke-width="1.1"/>
<path d="M882.3,534.8 A24.0,27.8 0 0 0 906.2,562.6" stroke="#222" stroke-width="0.7" fill="none"/>
<line x1="882.3" y1="591.4" x2="912.0" y2="591.4" stroke="#000" stroke-width="1.1"/>
<path d="M882.3,591.2 A24.0,28.6 0 0 1 906.2,562.6" stroke="#222" stroke-width="0.7" fill="none"/>
<line x1="906.2" y1="562.6" x2="920.5" y2="562.6" stroke="#222" stroke-width="0.6"/>
<polygon points="923.8,562.6 919.5,561.3 919.5,563.9" fill="#000"/>
<rect x="994.0" y="509.8" width="9.4" height="24.2"/>
<rect x="994.9" y="534.0" width="8.1" height="32.8" fill="#fff" stroke="#111" stroke-width="0.75"/>
<line x1="999.0" y1="534.0" x2="999.0" y2="566.8" stroke="#111" stroke-width="0.75"/>
<rect x="994.0" y="566.8" width="9.4" height="92.0"/>
<rect x="906.4" y="649.4" width="25.0" height="9.4"/>
<rect x="931.4" y="649.8" width="37.5" height="8.6" fill="#fff" stroke="#111" stroke-width="0.75"/>
<line x1="931.4" y1="654.1" x2="968.9" y2="654.1" stroke="#111" stroke-width="0.75"/>
<rect x="968.9" y="649.4" width="34.5" height="9.4"/>
<text x="956.0" y="579.1" font-size="8.7" font-weight="bold" text-anchor="middle" fill="#1a1a1a" font-family="Liberation Sans" stroke="#1a1a1a" stroke-width="0.22">Summer House</text>
<text x="956.0" y="589.1" font-size="8.7" font-weight="normal" text-anchor="middle" fill="#1a1a1a" font-family="Liberation Sans" stroke="#1a1a1a" stroke-width="0.10">11'1 (3.38)</text>
<text x="956.0" y="599.1" font-size="8.7" font-weight="normal" text-anchor="middle" fill="#1a1a1a" font-family="Liberation Sans" stroke="#1a1a1a" stroke-width="0.10">x 6'7 (2.01)</text>
<text x="908.0" y="672.9" font-size="10" font-weight="bold" text-anchor="start" fill="#111" font-family="Liberation Sans" stroke="#111" stroke-width="0.25">OUTBUILDING 2</text>
<path d="M37.8,73 L73.9,77.4 M37.8,73 L57,98.7 M37.8,73 L59.2,86.7" stroke="#555" stroke-width="0.55" fill="none"/>
<path d="M112.7,120.6 L94.5,92 M112.7,120.6 L75.6,116.2 M112.7,120.6 L93,107.5" stroke="#555" stroke-width="0.55" fill="none"/>
<path d="M52,134.3 L57,98.7 M52,134.3 L75.6,116.2 M52,134.3 L65.7,113.5" stroke="#555" stroke-width="0.55" fill="none"/>
<polygon points="99.6,59.4 73.9,77.4 93.6,90.0" fill="#000"/>
<circle cx="75.6" cy="97.1" r="19.1" fill="#fff" stroke="#333" stroke-width="0.6"/>
<circle cx="75.6" cy="97.1" r="16.6" fill="none" stroke="#333" stroke-width="0.5"/>
<polygon points="-6.2,7.6 -6.2,-7.6 -2.3,-7.6 2.7,2.6 2.7,-7.6 6.2,-7.6 6.2,7.6 2.3,7.6 -2.7,-2.6 -2.7,7.6" fill="#000" transform="translate(75.6,96.9) rotate(32)"/>
<circle cx="280.5" cy="717.5" r="14.6" fill="none" stroke="#777" stroke-width="0.7"/>
<circle cx="280.6" cy="708.4" r="2.0" fill="none" stroke="#777" stroke-width="0.6"/>
<rect x="278.2" y="711" width="4.8" height="16" rx="1.4" fill="none" stroke="#777" stroke-width="0.6"/>
<line x1="280.6" y1="720.0" x2="280.6" y2="727.0" stroke="#777" stroke-width="0.5"/>
<text x="300.0" y="710.3" font-size="9.05" font-weight="normal" text-anchor="start" fill="#666" font-family="Liberation Sans" stroke="#666" stroke-width="0.11">Floor plan produced in accordance with RICS Property Measurement 2nd Edition,</text>
<text x="300.0" y="720.8" font-size="9.05" font-weight="normal" text-anchor="start" fill="#666" font-family="Liberation Sans" stroke="#666" stroke-width="0.11">Incorporating International Property Measurement Standards (IPMS2 Residential).</text>
<text x="300.0" y="731.3" font-size="9.05" font-weight="normal" text-anchor="start" fill="#666" font-family="Liberation Sans" stroke="#666" stroke-width="0.11">Produced for Seymours Estate Agents.</text>
<text x="465.0" y="731.3" font-size="9.05" font-weight="normal" text-anchor="start" fill="#666" font-family="Liberation Sans" stroke="#666" stroke-width="0.11">REF: 1215822</text>
<text x="637.5" y="720.8" font-size="8.8" font-weight="normal" text-anchor="start" fill="#666" font-family="Liberation Sans" stroke="#666" stroke-width="0.11">© nichecom 2025.</text>
</g>
<rect x="715.2" y="698" width="30.6" height="21.1" fill="#FBB829"/>
<rect x="715.2" y="719.1" width="30.6" height="19.9" fill="#0B3862"/>
<text x="730.3" y="729.8" font-size="31" font-weight="bold" text-anchor="middle" fill="#FFF8E0" font-family="Liberation Serif">S</text>
</svg>
</body></html>
